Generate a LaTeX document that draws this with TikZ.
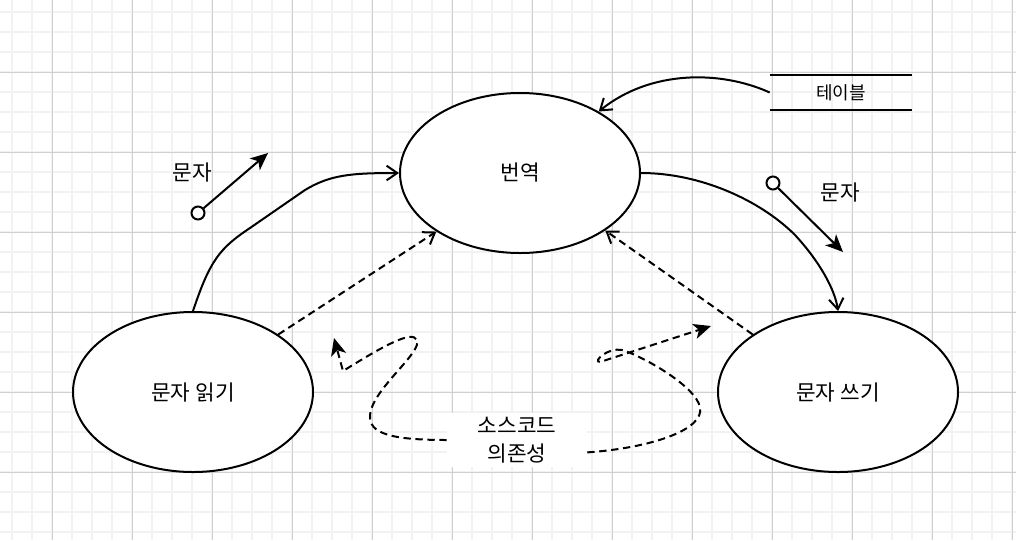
\documentclass[tikz,border=0pt]{standalone}
\usepackage{fontspec}
\newfontfamily\kr{Noto Sans CJK KR}
\usetikzlibrary{arrows.meta,shapes.geometric}
\definecolor{gridmajor}{RGB}{208,208,208}
\definecolor{gridminor}{RGB}{242,242,242}
\begin{document}
\begin{tikzpicture}[x=0.75pt,y=-0.75pt,
  font=\kr\fontsize{16pt}{21pt}\selectfont,
  proc/.style={ellipse,draw,line width=1.5pt,minimum width=180pt,minimum height=120pt,inner sep=0pt,fill=white},
  flow/.style={line width=1.5pt,-{Straight Barb[length=8pt,width=11pt]}},
  dep/.style={flow,dash pattern=on 5.5pt off 3.5pt},
  dataarrow/.style={line width=1.5pt,-{Stealth[length=13pt,width=11.5pt,inset=3.5pt]}},
  deploop/.style={dataarrow,dash pattern=on 5.5pt off 3.5pt},
  port/.style={circle,draw,line width=1.5pt,fill=white,minimum size=9.75pt,inner sep=0pt},
  lbl/.style={inner sep=0pt},
  store/.style={minimum width=106.5pt,minimum height=26.25pt,inner sep=0pt,font=\kr\fontsize{13.5pt}{16pt}\selectfont},
  ]
\useasboundingbox (0,0) rectangle (1016,540);
\fill[white] (0,0) rectangle (1016,540);
% grid
\foreach \i in {0,...,50} {\draw[gridminor,line width=1.2pt] (12+20*\i,0) -- (12+20*\i,540);}
\foreach \j in {0,...,26} {\draw[gridminor,line width=1.2pt] (0,12+20*\j) -- (1016,12+20*\j);}
\foreach \i in {0,...,12} {\draw[gridmajor,line width=0.75pt] (52+80*\i,0) -- (52+80*\i,540);}
\foreach \j in {0,...,5} {\draw[gridmajor,line width=0.75pt] (0,72+80*\j) -- (1016,72+80*\j);}

% nodes
\node[proc] (t) at (520,173) {번역};
\node[proc] (r) at (193,392) {문자 읽기};
\node[proc] (w) at (838,392) {문자 쓰기};
\node[store] (tb) at (841,92.5) {테이블};
\draw[line width=1.5pt] (tb.north west) -- (tb.north east);
\draw[line width=1.5pt] (tb.south west) -- (tb.south east);
\node[fill=white,minimum width=105pt,minimum height=40.5pt,inner sep=0pt,align=center] (dl) at (517,440) {소스코드\\의존성};

\node[lbl] (l1) at (192,173) {문자};
\node[lbl] (l2) at (840,193) {문자};
\node[port] (p1) at (198,213) {};
\coordinate (e1) at (268,153);
\node[port] (p2) at (773,183) {};
\coordinate (e2) at (843,252);
\coordinate (e3) at (334,338);
\coordinate (e4) at (711,326);

% connectors
\draw[flow] (r.north) .. controls (210,260) and (220,248) .. (250,228) -- (305,190) .. controls (330,175) and (350,173) .. (t.west);
\draw[flow] (t.east) .. controls (700,173) and (760,200) .. (795,235) .. controls (820,262) and (835,290) .. (w.north);
\draw[flow] (tb.west) .. controls (720,70) and (650,70) .. (t.38);
\draw[dep] (r.34) -- (t.215);
\draw[dep] (w.146) -- (t.326);
\draw[dataarrow] (p1) -- (e1);
\draw[dataarrow] (p2) -- (e2);
\draw[deploop] (dl.west) .. controls (385,440) and (365,432) .. (371,410) .. controls (378,385) and (422,352) .. (417,340) .. controls (412,330) and (385,345) .. (343,371) -- (e3);
\draw[deploop] (dl.-10) .. controls (650,448) and (705,430) .. (700,407) .. controls (695,385) and (640,355) .. (622,350) .. controls (608,347) and (592,362) .. (600,362) -- (e4);
\end{tikzpicture}
\end{document}
